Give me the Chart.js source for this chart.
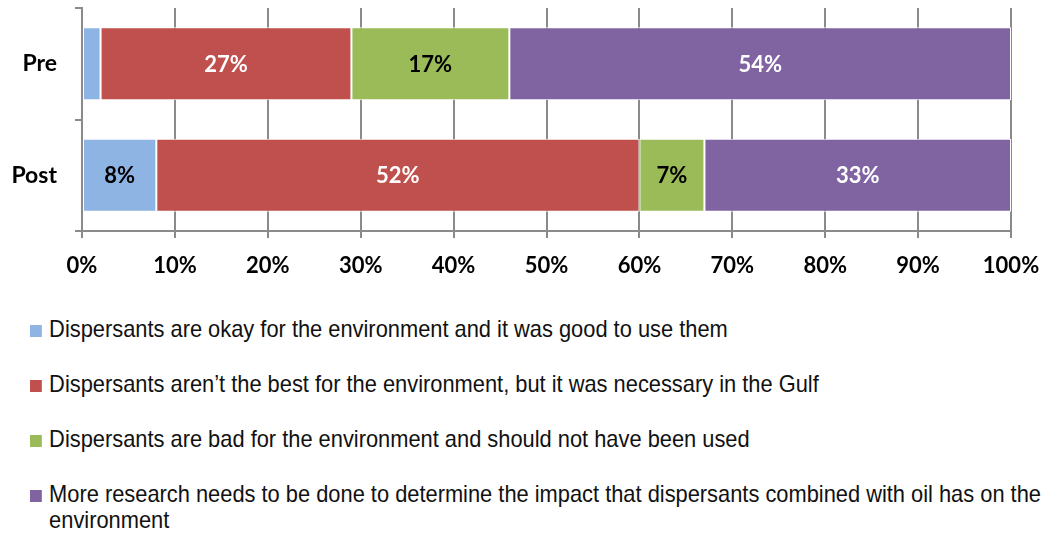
<!DOCTYPE html>
<html>
<head>
<meta charset="utf-8">
<script src="https://cdn.jsdelivr.net/npm/chart.js@4/dist/chart.umd.min.js"></script>
<style>
  html, body { margin: 0; padding: 0; background: #fff; }
  #wrap { position: relative; width: 1047px; height: 539px; overflow: hidden; }
  #chartBox { position: absolute; left: 0; top: 0; width: 1047px; height: 285px; }
  #legend { position: absolute; left: 30px; top: 316px; width: 1120px;
    transform: scaleX(0.91); transform-origin: 0 0;
    font-family: "Liberation Sans Narrow", "Arial Narrow", "Liberation Sans", Arial, sans-serif;
    font-size: 24px; color: #111; }
  .item { position: relative; padding-left: 21px; line-height: 26px; margin-bottom: 29px; }
  .sw { position: absolute; left: 0; top: 9px; width: 13px; height: 12px; }
</style>
</head>
<body>
<div id="wrap">
  <div id="chartBox"><canvas id="c"></canvas></div>
  <div id="legend"></div>
</div>
<script>
const categories = ['Pre', 'Post'];
const seriesNames = [
  'Dispersants are okay for the environment and it was good to use them',
  'Dispersants aren\u2019t the best for the environment, but it was necessary in the Gulf',
  'Dispersants are bad for the environment and should not have been used',
  'More research needs to be done to determine the impact that dispersants combined with oil has on the environment'
];
const okayValues = [2, 8];
const notBestValues = [27, 52];
const badValues = [17, 7];
const researchValues = [54, 33];
const tickLabels = ['0%', '10%', '20%', '30%', '40%', '50%', '60%', '70%', '80%', '90%', '100%'];

const colors = ['#8EB4E3', '#C0504D', '#9BBB59', '#8064A2'];
const labelColors = ['#000', '#fff', '#000', '#fff'];
const allValues = [okayValues, notBestValues, badValues, researchValues];

// simple inline data label plugin
const barLabels = {
  id: 'barLabels',
  afterDatasetsDraw(chart) {
    const ctx = chart.ctx;
    ctx.save();
    ctx.font = 'bold 22px Lato, "Open Sans", sans-serif';
    ctx.textAlign = 'center';
    ctx.textBaseline = 'middle';
    chart.data.datasets.forEach((ds, i) => {
      chart.getDatasetMeta(i).data.forEach((bar, j) => {
        const v = ds.data[j];
        if (v < 5) return;
        const p = bar.getProps(['x', 'y', 'base'], true);
        ctx.fillStyle = labelColors[i];
        ctx.fillText(v + '%', (p.x + p.base) / 2, p.y + 1);
      });
    });
    ctx.restore();
  }
};

const gridGray = '#8a8a8a';

new Chart(document.getElementById('c'), {
  type: 'bar',
  data: {
    labels: categories,
    datasets: seriesNames.map((name, i) => ({
      label: name,
      data: allValues[i],
      backgroundColor: colors[i],
      borderColor: '#ffffff',
      borderWidth: 1,
      borderSkipped: false,
      categoryPercentage: 0.655,
      barPercentage: 1
    }))
  },
  options: {
    indexAxis: 'y',
    responsive: true,
    maintainAspectRatio: false,
    animation: false,
    layout: { padding: { top: 8, right: 36, left: 0, bottom: 0 } },
    plugins: { legend: { display: false }, tooltip: { enabled: false } },
    scales: {
      x: {
        stacked: true,
        min: 0, max: 100,
        afterFit: (s) => { s.height = 54; s.paddingLeft = 0; s.paddingRight = 0; },
        ticks: {
          stepSize: 10,
          padding: 15,
          color: '#000',
          font: { family: 'Lato, "Open Sans", sans-serif', size: 22, weight: 'bold' },
          callback: (v, i) => tickLabels[i]
        },
        grid: { color: gridGray, lineWidth: 2, tickLength: 7 },
        border: { color: gridGray, width: 2 }
      },
      y: {
        stacked: true,
        afterFit: (s) => { s.width = 82; s.paddingTop = 0; s.paddingBottom = 0; },
        ticks: {
          padding: 18,
          color: '#000',
          font: { family: 'Lato, "Open Sans", sans-serif', size: 23, weight: 'bold' }
        },
        grid: { drawOnChartArea: false, color: gridGray, lineWidth: 2, tickLength: 7 },
        border: { color: gridGray, width: 2 }
      }
    }
  },
  plugins: [barLabels]
});

// html legend so the long last item can wrap like the original
const legendEl = document.getElementById('legend');
seriesNames.forEach((name, i) => {
  const item = document.createElement('div');
  item.className = 'item';
  item.innerHTML = '<span class="sw" style="background:' + colors[i] + '"></span>' + name;
  legendEl.appendChild(item);
});
</script>
</body>
</html>
